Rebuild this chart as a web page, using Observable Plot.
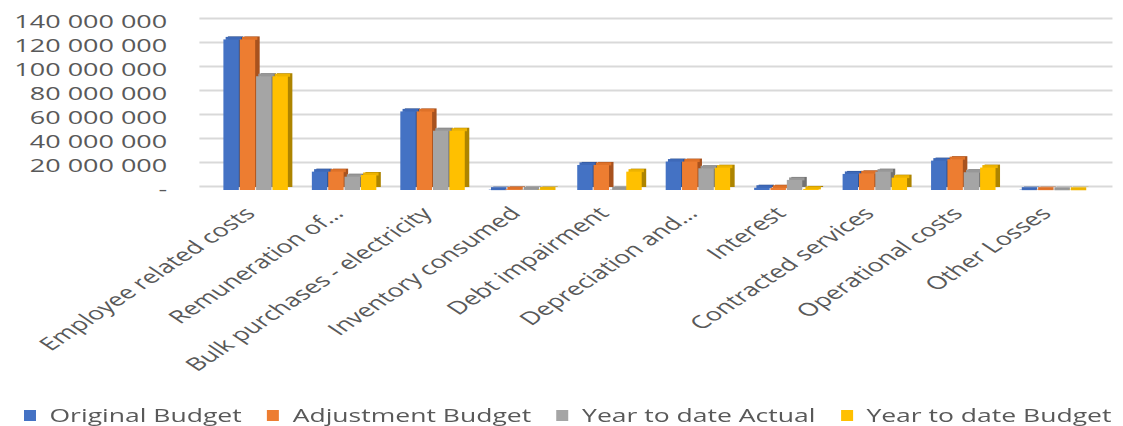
<!DOCTYPE html>
<html>
<head>
<meta charset="utf-8">
<script src="https://cdn.jsdelivr.net/npm/d3@7"></script>
<script src="https://cdn.jsdelivr.net/npm/@observablehq/plot@0.6"></script>
<style>
  html, body { margin: 0; padding: 0; background: #fff; overflow: hidden; }
  #wrap { width: 749px; transform: scaleX(1.4993); transform-origin: 0 0; font-family: "Open Sans", sans-serif; }
  #legend { display: flex; align-items: center; margin-top: 13px; padding-left: 16px; height: 24px;
            font-size: 17.7px; color: #595959; white-space: nowrap; }
  #legend .item { display: flex; align-items: center; margin-right: 17px; }
  #legend .sw { width: 8px; height: 11px; margin-right: 9px; display: inline-block; }
</style>
</head>
<body>
<div id="wrap"><div id="chart"></div><div id="legend"></div></div>
<script>
const categories = ["Employee related costs", "Remuneration of…", "Bulk purchases - electricity", "Inventory consumed", "Debt impairment", "Depreciation and…", "Interest", "Contracted services", "Operational costs", "Other Losses"];
const seriesNames = ["Original Budget", "Adjustment Budget", "Year to date Actual", "Year to date Budget"];
const originalBudget   = [125500000, 15300000, 65500000, 300000, 20900000, 23700000, 1900000, 13400000, 24500000, 300000];
const adjustmentBudget = [125500000, 15300000, 65500000, 500000, 20900000, 23700000, 1900000, 13900000, 25700000, 300000];
const ytdActual        = [94800000, 11100000, 49400000, 400000, 400000, 18100000, 8400000, 15300000, 14800000, 200000];
const ytdBudget        = [94800000, 12500000, 49400000, 400000, 15300000, 18600000, 900000, 10300000, 18700000, 200000];
const yTicks = [0, 20000000, 40000000, 60000000, 80000000, 100000000, 120000000, 140000000];
const colors = ["#4472C4", "#ED7D31", "#A5A5A5", "#FFC000"];
const topColors = ["#3E69B8", "#DE7128", "#979797", "#EDB300"];
const sideColors = ["#2C4F8E", "#A8521E", "#727272", "#AD8400"];

const seriesValues = [originalBudget, adjustmentBudget, ytdActual, ytdBudget];
const data = seriesValues.flatMap((vals, s) => vals.map((v, i) => ({category: categories[i], series: seriesNames[s], value: v})));

const fmt = d3.formatLocale({decimal: ".", thousands: " ", grouping: [3], currency: ["", ""]}).format(",");
const xRange = [137.33, 734.67];
const pInner = 0.27;
const step = (xRange[1] - xRange[0]) / categories.length;
const barW = step * (1 - pInner) / seriesNames.length;
const depth = 3;

const sideMarks = [], topMarks = [], frontMarks = [];
seriesNames.forEach((name, s) => {
  const subset = data.filter(d => d.series === name);
  const inset = {insetLeft: s * barW, insetRight: (seriesNames.length - 1 - s) * barW};
  sideMarks.push(Plot.barY(subset, {x: "category", y: "value", fill: sideColors[s], ...inset, dx: depth, dy: -depth}));
  topMarks.push(Plot.tickY(subset, {x: "category", y: "value", stroke: topColors[s], strokeWidth: depth, ...inset, dx: depth / 2, dy: -depth / 2}));
  frontMarks.push(Plot.barY(subset, {x: "category", y: "value", fill: colors[s], ...inset}));
});

const chart = Plot.plot({
  width: 749,
  height: 390,
  marginLeft: 133,
  marginRight: 7,
  marginTop: 22,
  marginBottom: 200,
  style: {fontFamily: "'Open Sans', sans-serif", background: "#fff"},
  x: {domain: categories, range: xRange, paddingInner: pInner, paddingOuter: pInner / 2},
  y: {domain: [0, 140000000]},
  marks: [
    Plot.ruleY(yTicks, {stroke: "#d9d9d9", strokeWidth: 2, dy: -4}),
    ...sideMarks,
    ...topMarks,
    ...frontMarks,
    Plot.axisY({ticks: yTicks, tickFormat: d => d === 0 ? "-" : fmt(d), tickSize: 0, tickPadding: 22,
      fontSize: 18, fill: "#595959", label: null}),
    Plot.axisX({tickRotate: -45, tickSize: 0, tickPadding: 20, dx: -4, fontSize: 18, fill: "#595959", label: null})
  ]
});
document.getElementById("chart").appendChild(chart);

const legend = document.getElementById("legend");
seriesNames.forEach((name, s) => {
  const item = document.createElement("div");
  item.className = "item";
  const sw = document.createElement("span");
  sw.className = "sw";
  sw.style.background = colors[s];
  item.appendChild(sw);
  item.appendChild(document.createTextNode(name));
  legend.appendChild(item);
});
</script>
</body>
</html>
